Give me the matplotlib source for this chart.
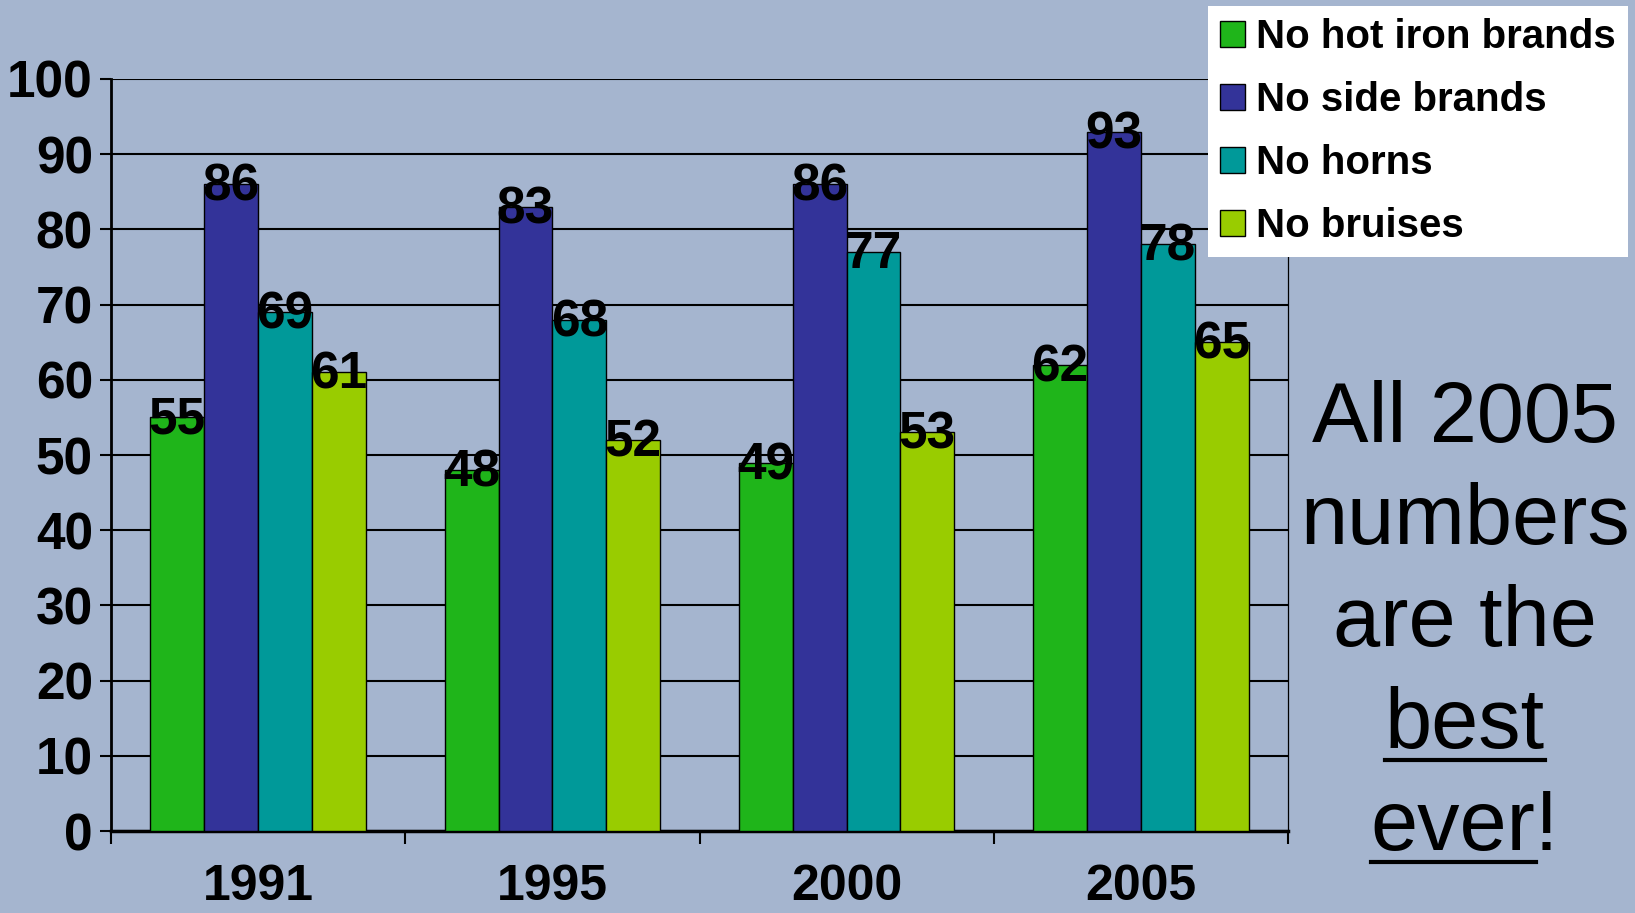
import matplotlib
matplotlib.use('Agg')
import matplotlib.pyplot as plt
import numpy as np
from matplotlib import font_manager
from matplotlib.patches import Patch
from matplotlib.lines import Line2D

years = ['1991', '1995', '2000', '2005']
series_names = ['No hot iron brands', 'No side brands', 'No horns', 'No bruises']
hot_iron = [55, 48, 49, 62]
side_brands = [86, 83, 86, 93]
horns = [69, 68, 77, 78]
bruises = [61, 52, 53, 65]
colors = ['#1fb51a', '#333399', '#009999', '#99cc00']
side_text = ['All 2005', 'numbers', 'are the', 'best', 'ever!']

names = {f.name for f in font_manager.fontManager.ttflist}
narrow = 'Liberation Sans Narrow' if 'Liberation Sans Narrow' in names else 'Liberation Sans'
bg = '#a5b5cf'

W, H = 1635, 913
fig = plt.figure(figsize=(W / 100, H / 100), dpi=100, facecolor=bg)
ax = fig.add_axes([111 / W, 1 - 831 / H, (1288 - 111) / W, (831 - 79) / H])
ax.set_facecolor(bg)

x = np.arange(len(years))
bw = 0.183
all_series = [hot_iron, side_brands, horns, bruises]
for i, vals in enumerate(all_series):
    pos = x + (i - 1.5) * bw
    ax.bar(pos, vals, width=bw, color=colors[i], edgecolor='black', linewidth=1.0, zorder=3)
    for px, v in zip(pos, vals):
        ax.text(px, v - 0.4, str(v), ha='center', va='center', fontsize=37,
                fontweight='bold', family=narrow, color='black', zorder=5)

ax.set_xlim(-0.5, 3.5)
ax.set_ylim(0, 100)
ax.set_yticks(range(0, 101, 10))
ax.yaxis.grid(True, color='black', linewidth=1.5, zorder=1)
ax.set_axisbelow(True)
ax.tick_params(axis='y', length=8, width=1.5, pad=5, labelsize=37)
for lab in ax.get_yticklabels():
    lab.set_fontweight('bold')
    lab.set_family(narrow)

# category boundary ticks, year labels on minor ticks at centres
ax.set_xticks(np.arange(-0.5, 4, 1))
ax.set_xticklabels([])
ax.tick_params(axis='x', which='major', length=9, width=1.5, direction='out')
ax.set_xticks(x, minor=True)
ax.set_xticklabels(years, minor=True)
ax.tick_params(axis='x', which='minor', length=0, pad=24, labelsize=36)
for lab in ax.get_xticklabels(minor=True):
    lab.set_fontweight('bold')
    lab.set_family(narrow)

ax.spines['top'].set_visible(False)
ax.spines['left'].set_linewidth(2)
ax.spines['bottom'].set_linewidth(2.5)
ax.spines['right'].set_linewidth(0.9)

handles = [Patch(facecolor=c, edgecolor='black', linewidth=1.0) for c in colors]
leg = fig.legend(handles, series_names, loc='upper right',
                 bbox_to_anchor=(1628 / W, 1 - 6 / H), bbox_transform=fig.transFigure,
                 prop={'family': 'Liberation Sans', 'weight': 'bold', 'size': 29},
                 frameon=True, fancybox=False, facecolor='white', edgecolor='white',
                 framealpha=1, borderpad=0.3, borderaxespad=0, handlelength=0.62,
                 handleheight=0.62, handletextpad=0.28, labelspacing=0.62)
leg.get_frame().set_linewidth(0)

cx = 1465 / W
baselines = [442, 544, 646, 748, 850]
texts = []
for s, b in zip(side_text, baselines):
    t = fig.text(cx, 1 - b / H, s, ha='center', va='baseline', fontsize=61,
                 family='Liberation Sans', color='black')
    texts.append((t, b))

# underline "best" and "ever"
fig.canvas.draw()
renderer = fig.canvas.get_renderer()
for (t, b), word in zip(texts[3:], ['best', 'ever']):
    bb = t.get_window_extent(renderer)
    w, _, _ = renderer.get_text_width_height_descent(word, t.get_fontproperties(), ismath=False)
    yline = 1 - (b + 12) / H
    fig.add_artist(Line2D([bb.x0 / W, (bb.x0 + w) / W], [yline, yline],
                          transform=fig.transFigure, color='black', linewidth=3))

fig.savefig('out.png', dpi=100, facecolor=bg)
